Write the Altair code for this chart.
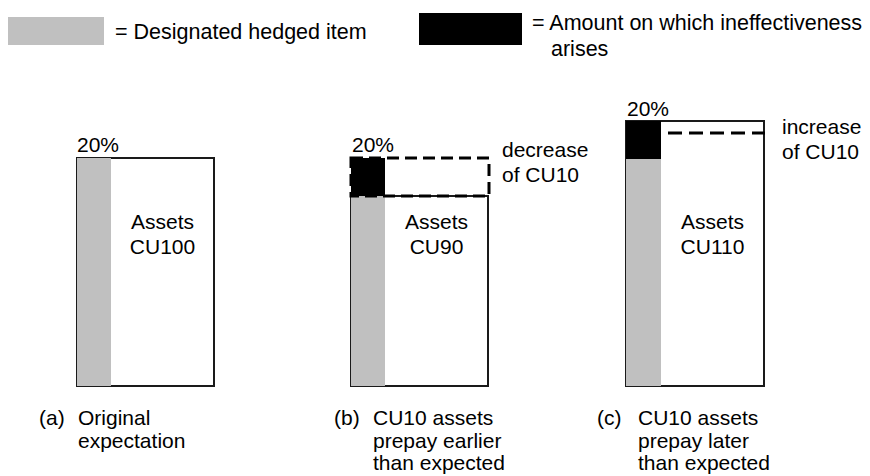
import altair as alt
import pandas as pd

# ---- diagram content (values) ----
FONT = "Liberation Sans"
GRAY = "#c0c0c0"

# rectangles: x, x2, y, y2 in diagram units (1 unit = 1 px), fill, stroke
rect_x = [8, 419, 77, 77, 351, 351, 351, 626, 626, 626]
rect_x2 = [104, 522, 214, 111, 488, 385, 385, 764, 661, 661]
rect_y = [17, 13, 158, 158, 196, 196, 158, 121, 159, 121]
rect_y2 = [45, 45, 386, 386, 386, 386, 196, 386, 386, 159]
rect_fill = [GRAY, "black", "white", GRAY, "white", GRAY, "black", "white", GRAY, "black"]
rect_stroke = ["none", "none", "#1a1a1a", "none", "#1a1a1a", "none", "none", "#1a1a1a", "none", "none"]

# dashed outline in (b)
dash_x = [351]
dash_x2 = [489]
dash_y = [158]
dash_y2 = [196]

# dashed line in (c)
dline_x = [626]
dline_x2 = [765]
dline_y = [133]

# texts
txt = ["= Designated hedged item", "= Amount on which ineffectiveness", "arises",
       "20%", "Assets", "CU100",
       "20%", "decrease", "of CU10", "Assets", "CU90",
       "20%", "increase", "of CU10", "Assets", "CU110",
       "(a)", "Original", "expectation",
       "(b)", "CU10 assets", "prepay earlier", "than expected",
       "(c)", "CU10 assets", "prepay later", "than expected"]
txt_x = [115, 532, 551,
         77, 162.5, 162.5,
         352, 502, 502, 436.5, 436.5,
         627, 782, 782, 712.5, 712.5,
         39, 78, 78,
         334, 373, 373, 373,
         597, 638, 638, 638]
txt_y = [33, 24, 50,
         146, 223, 248,
         146, 151, 176, 223, 248,
         110, 128, 153, 223, 248,
         419, 419, 442,
         419, 419, 442, 464,
         419, 419, 442, 464]
txt_size = [21.5, 21.5, 21.5] + [21] * 24
txt_align = ["left"] * 3 + ["left", "center", "center"] + ["left", "left", "left", "center", "center"] + \
            ["left", "left", "left", "center", "center"] + ["left"] * 11

W, H = 854, 468
xs = alt.Scale(domain=[8, 8 + W], range=[0, W])
ys = alt.Scale(domain=[8, 8 + H], range=[0, H])

rects = pd.DataFrame({"x": rect_x, "x2": rect_x2, "y": rect_y, "y2": rect_y2,
                      "fill": rect_fill, "stroke": rect_stroke})
base_rect = alt.Chart(rects).mark_rect(strokeWidth=2).encode(
    x=alt.X("x:Q", scale=xs, axis=None), x2="x2:Q",
    y=alt.Y("y:Q", scale=ys, axis=None), y2="y2:Q",
    fill=alt.Fill("fill:N", scale=None), stroke=alt.Stroke("stroke:N", scale=None))

dashes = pd.DataFrame({"x": dash_x, "x2": dash_x2, "y": dash_y, "y2": dash_y2})
dash_rect = alt.Chart(dashes).mark_rect(fill="transparent", stroke="black", strokeWidth=3,
                                        strokeDash=[12, 6]).encode(
    x=alt.X("x:Q", scale=xs, axis=None), x2="x2:Q",
    y=alt.Y("y:Q", scale=ys, axis=None), y2="y2:Q")

dl = pd.DataFrame({"x": dline_x, "x2": dline_x2, "y": dline_y})
dash_line = alt.Chart(dl).mark_rule(stroke="black", strokeWidth=3, strokeDash=[14, 7]).encode(
    x=alt.X("x:Q", scale=xs, axis=None), x2="x2:Q",
    y=alt.Y("y:Q", scale=ys, axis=None))

texts = pd.DataFrame({"t": txt, "x": txt_x, "y": txt_y, "a": txt_align, "s": txt_size})
layers = []
for a in ["left", "center"]:
    layers.append(alt.Chart(texts[texts.a == a]).mark_text(
        align=a, baseline="middle", font=FONT, color="black").encode(
        x=alt.X("x:Q", scale=xs, axis=None),
        y=alt.Y("y:Q", scale=ys, axis=None),
        size=alt.Size("s:Q", scale=None),
        text="t:N"))

chart = alt.layer(base_rect, dash_rect, dash_line, *layers).properties(
    width=W, height=H, padding=0, autosize=alt.AutoSizeParams(type="none")
).configure_view(strokeWidth=0)

chart.save("out.html", embed_options={"renderer": "svg", "actions": False})
